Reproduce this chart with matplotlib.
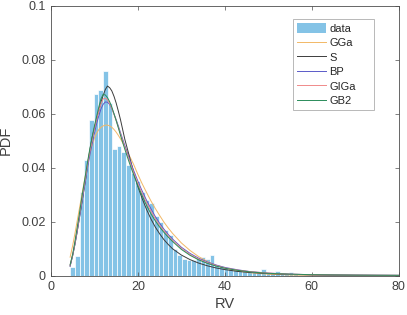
import numpy as np
import matplotlib
matplotlib.use("Agg")
import matplotlib.pyplot as plt
from matplotlib.patches import Patch
from matplotlib.lines import Line2D

plt.rcParams['font.family'] = ['Liberation Sans', 'DejaVu Sans']

# ---------------- data ----------------
bin_start = 4.46
bin_width = 1.07
bar_heights = [0.003, 0.0074, 0.031, 0.043, 0.0576, 0.0675, 0.069, 0.076, 0.064,
               0.047, 0.048, 0.046, 0.041, 0.038, 0.035, 0.031, 0.028, 0.027, 0.022,
               0.0198, 0.017, 0.015, 0.010, 0.0075, 0.0062, 0.0058, 0.0058, 0.0066,
               0.0068, 0.0063, 0.0077, 0.0038, 0.0037, 0.0027, 0.0025, 0.0024, 0.002,
               0.0019, 0.0017, 0.0015, 0.0013, 0.0024, 0.001, 0.0009, 0.0016, 0.0007,
               0.0006, 0.0012, 0.0004, 0.0003, 0.0003, 0.0002, 0.0002, 0.0001]

curve_x = [4.4, 5, 5.5, 6, 6.5, 7, 7.5, 8, 8.5, 9, 9.5, 10, 10.5, 11, 11.5, 12,
           12.5, 13, 13.5, 14, 14.5, 15, 15.5, 16, 17, 18, 19, 20, 21, 22, 23, 24,
           25, 26, 27, 28, 30, 32, 34, 36, 38, 40, 43, 46, 50, 55, 60, 65, 70, 75, 80]

pdf_GGa = [0.0068, 0.0112, 0.0155, 0.020, 0.0245, 0.029, 0.0335, 0.0378, 0.0418,
           0.0455, 0.0485, 0.051, 0.0528, 0.0541, 0.055, 0.0555, 0.0558, 0.0558,
           0.0555, 0.055, 0.0542, 0.0532, 0.052, 0.0507, 0.0478, 0.0446, 0.0413,
           0.0375, 0.034, 0.0308, 0.0277, 0.0249, 0.0223, 0.0198, 0.0176, 0.0156,
           0.0121, 0.0093, 0.007, 0.0052, 0.0038, 0.0028, 0.0017, 0.001, 0.0005,
           0.0002, 0.0001, 0.00004, 0.00002, 0.00001, 0.000005]
pdf_S = [0.0035, 0.0075, 0.0115, 0.016, 0.021, 0.026, 0.031, 0.036, 0.042, 0.047,
         0.0515, 0.0548, 0.058, 0.0612, 0.0642, 0.0668, 0.069, 0.0703, 0.0697,
         0.0685, 0.0665, 0.064, 0.061, 0.0578, 0.0505, 0.0445, 0.0385, 0.033,
         0.0285, 0.0245, 0.021, 0.018, 0.0155, 0.0133, 0.0115, 0.0099, 0.0076,
         0.0059, 0.0046, 0.0036, 0.0028, 0.0022, 0.0015, 0.0011, 0.0007, 0.0004,
         0.00025, 0.00015, 0.0001, 0.00006, 0.00004]
pdf_BP = [0.0035, 0.0075, 0.0115, 0.016, 0.021, 0.026, 0.031, 0.036, 0.0408, 0.0452,
          0.049, 0.0528, 0.0563, 0.0592, 0.0618, 0.0635, 0.0644, 0.0643, 0.0635,
          0.062, 0.060, 0.0578, 0.0555, 0.053, 0.0482, 0.0435, 0.0391, 0.035,
          0.0313, 0.0279, 0.0248, 0.0219, 0.0194, 0.0172, 0.0152, 0.0135, 0.0105,
          0.0082, 0.0064, 0.005, 0.0039, 0.003, 0.0021, 0.0014, 0.0009, 0.0005,
          0.0003, 0.0002, 0.00012, 0.00008, 0.00005]
pdf_GIGa = [0.0038, 0.0078, 0.012, 0.0168, 0.0218, 0.027, 0.032, 0.037, 0.042, 0.0465,
            0.0505, 0.0545, 0.058, 0.061, 0.0638, 0.0655, 0.0658, 0.0652, 0.0638,
            0.062, 0.0598, 0.0575, 0.055, 0.0525, 0.0475, 0.0428, 0.0383, 0.0342,
            0.0304, 0.027, 0.0239, 0.0211, 0.0187, 0.0166, 0.0147, 0.013, 0.0101,
            0.0078, 0.0061, 0.0047, 0.0037, 0.0028, 0.002, 0.0014, 0.0009, 0.0005,
            0.0003, 0.0002, 0.00012, 0.00008, 0.00005]
pdf_GB2 = [0.004, 0.008, 0.0125, 0.0175, 0.0225, 0.028, 0.033, 0.038, 0.043, 0.0475,
           0.0515, 0.0555, 0.059, 0.0625, 0.0655, 0.0672, 0.067, 0.066, 0.0645,
           0.0625, 0.060, 0.0575, 0.0548, 0.052, 0.0468, 0.042, 0.0375, 0.0333,
           0.0295, 0.026, 0.0229, 0.0203, 0.018, 0.016, 0.0142, 0.0126, 0.0097,
           0.0075, 0.0058, 0.0045, 0.0035, 0.0027, 0.0019, 0.0013, 0.0008, 0.0005,
           0.0003, 0.0002, 0.00013, 0.00009, 0.00006]

series_names = ['GGa', 'S', 'BP', 'GIGa', 'GB2']
x_ticks = [0, 20, 40, 60, 80]
y_ticks = [0, 0.02, 0.04, 0.06, 0.08, 0.1]
y_tick_labels = ['0', '0.02', '0.04', '0.06', '0.08', '0.1']

# ---------------- plot ----------------
W, H = 407, 315
fig = plt.figure(figsize=(W / 100, H / 100), dpi=100)
ax = fig.add_axes([51 / W, 1 - 275.5 / H, 347.5 / W, 269.5 / H])

bar_color = '#84c3e6'
edges = bin_start + bin_width * np.arange(len(bar_heights))
ax.bar(edges, bar_heights, width=bin_width, align='edge', color=bar_color,
       edgecolor='white', linewidth=0.5, zorder=1)

colors = {'GGa': '#f2b866', 'S': '#3c3c3c', 'BP': '#5a5ac8', 'GIGa': '#f08a8a',
          'GB2': '#2a8c5a'}
data_map = {'GGa': pdf_GGa, 'S': pdf_S, 'BP': pdf_BP, 'GIGa': pdf_GIGa, 'GB2': pdf_GB2}
for name in series_names:
    ax.plot(curve_x, data_map[name], color=colors[name], lw=0.7, zorder=2)

ax.set_xlim(0, 80)
ax.set_ylim(0, 0.1)
ax.set_xticks(x_ticks)
ax.set_yticks(y_ticks)
ax.set_yticklabels(y_tick_labels)

axcol = '#4d4d4d'
for s in ax.spines.values():
    s.set_color(axcol)
    s.set_linewidth(0.6)
ax.tick_params(direction='in', length=3, width=0.5, colors=axcol,
               labelcolor='#404040', labelsize=9, top=True, right=True, pad=4)
ax.set_xlabel('RV', fontsize=10.5, color='#404040', labelpad=3)
ax.set_ylabel('PDF', fontsize=10.5, color='#404040', labelpad=6)

handles = [Patch(facecolor=bar_color, edgecolor='none')]
handles += [Line2D([], [], color=colors[n], lw=0.7) for n in series_names]
labels = ['data'] + series_names
leg = fig.legend(handles, labels, loc='upper left',
                 bbox_to_anchor=(293 / W, 1 - 19 / H, 81 / W, 0),
                 mode='expand', borderaxespad=0, fontsize=8, frameon=True,
                 fancybox=False, handlelength=2.6, handleheight=1.0,
                 handletextpad=0.3, labelspacing=0.34, borderpad=0.35)
leg.get_frame().set_edgecolor('#999999')
leg.get_frame().set_linewidth(0.6)
for t in leg.get_texts():
    t.set_color('#262626')

fig.savefig('out.png', dpi=100)
